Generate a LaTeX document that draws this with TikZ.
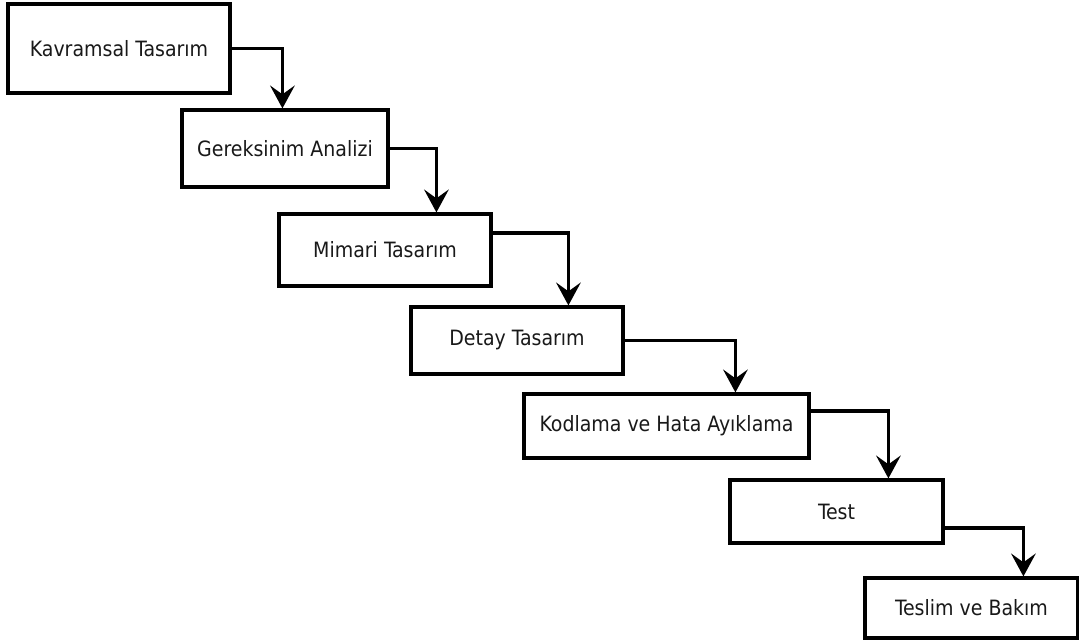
\documentclass[tikz,border=0pt]{standalone}
\usepackage{fontspec}
\setmainfont{DejaVu Sans Condensed}
\usepackage{tikz}
\usetikzlibrary{arrows.meta, positioning}
\tikzset{
  stage/.style = {draw=black, line width=1.8pt, rectangle, align=center,
    inner sep=0pt, text=black!90, font=\fontsize{12}{14}\selectfont},
  flow/.style = {line width=1.8pt, -{Stealth[length=13pt,width=14pt,inset=5pt]}}
}
\begin{document}
\begin{tikzpicture}
\useasboundingbox (0,0) rectangle (21.58,-12.82);
\node [stage, minimum width=4.44cm, minimum height=1.78cm] (kavramsal) at (2.38,-0.97) {Kavramsal Tasarım};
\node [stage, minimum width=4.12cm, minimum height=1.54cm] (gereksinim) at (5.70,-2.97) {Gereksinim Analizi};
\node [stage, minimum width=4.24cm, minimum height=1.44cm] (mimari) at (7.70,-5.00) {Mimari Tasarım};
\node [stage, minimum width=4.24cm, minimum height=1.34cm] (detay) at (10.34,-6.81) {Detay Tasarım};
\node [stage, minimum width=5.70cm, minimum height=1.28cm] (kodlama) at (13.33,-8.52) {Kodlama ve Hata Ayıklama};
\node [stage, minimum width=4.26cm, minimum height=1.26cm] (test) at (16.73,-10.23) {Test};
\node [stage, minimum width=4.26cm, minimum height=1.20cm] (teslim) at (19.43,-12.16) {Teslim ve Bakım};

\draw [flow] (kavramsal.east) -| ([xshift=2.04cm]gereksinim.north west);
\draw [flow] (gereksinim.east) -| ([xshift=3.18cm]mimari.north west);
\draw [flow] ([yshift=0.34cm]mimari.east) -| ([xshift=3.18cm]detay.north west);
\draw [flow] (detay.east) -| ([xshift=4.26cm]kodlama.north west);
\draw [flow] ([yshift=0.30cm]kodlama.east) -| ([xshift=3.20cm]test.north west);
\draw [flow] ([yshift=-0.33cm]test.east) -| ([xshift=3.20cm]teslim.north west);
\end{tikzpicture}
\end{document}
